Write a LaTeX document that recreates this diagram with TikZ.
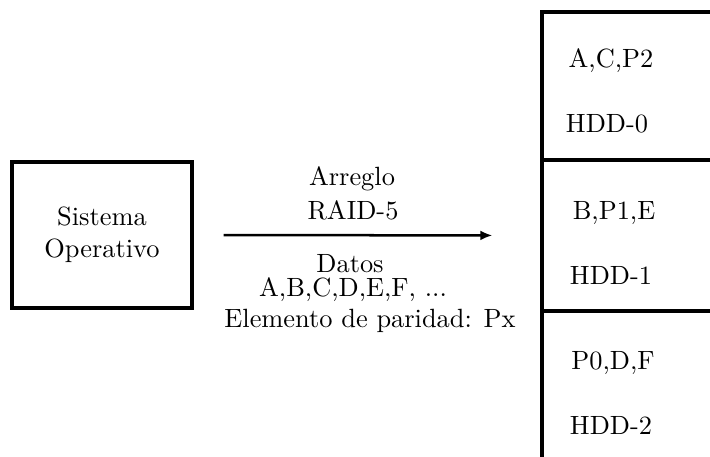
\documentclass[tikz,border=0pt]{standalone}
\usepackage{mathtools}
\usepackage{tikz}
\usetikzlibrary{arrows.meta,fit}

\begin{document}
\begin{tikzpicture}[x=0.379pt,y=-0.379pt,
    sobox/.style={draw=black,line width=1.2pt,minimum width=68.2pt,minimum height=55.3pt,align=center,inner sep=0pt},
    diskbox/.style={draw=black,line width=1.2pt,inner sep=0pt},
    label/.style={inner sep=0pt,anchor=base},
    flecha/.style={line width=0.95pt,-{Latex[length=4.6pt,width=3.8pt]}}]
    \useasboundingbox (0,0) rectangle (710,457);
    \clip (0,0) rectangle (710,457);
    % sistema operativo
    \node [sobox] (so) at (102,235) {Sistema\\Operativo};
    % discos
    \node [diskbox,fit={(542,12) (740,159.5)}] (hdd0) {};
    \node [diskbox,fit={(542,160.5) (740,310.5)}] (hdd1) {};
    \node [diskbox,fit={(542,311.5) (740,480)}] (hdd2) {};
    \node [label] (d0a) at (611,68) {A,C,P2};
    \node [label] (d0b) at (607,133) {HDD-0};
    \node [label] (d1a) at (614,220) {B,P1,E};
    \node [label] (d1b) at (611,285) {HDD-1};
    \node [label] (d2a) at (613,370) {P0,D,F};
    \node [label] (d2b) at (611,435) {HDD-2};
    % arreglo
    \draw [flecha,shorten <=11.4pt,shorten >=18.2pt] (so.east) -- (hdd1.west);
    \node [label] (arr) at (352,186) {Arreglo};
    \node [label] (raid) at (353,220) {RAID-5};
    \node [label] (datos) at (350,273) {Datos};
    \node [label] (letras) at (353,297) {A,B,C,D,E,F, ...};
    \node [label] (paridad) at (370,328) {Elemento de paridad: Px};
\end{tikzpicture}
\end{document}
